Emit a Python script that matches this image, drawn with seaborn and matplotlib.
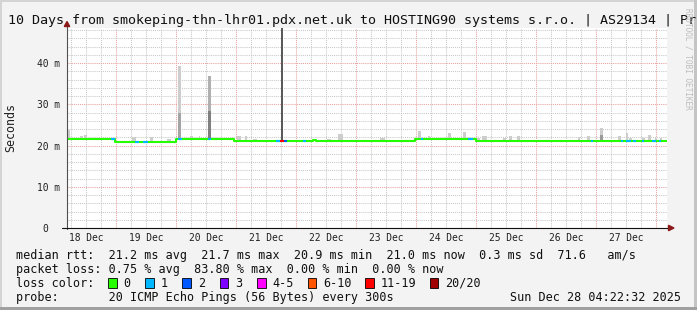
import numpy as np
import pandas as pd
import matplotlib
matplotlib.use("Agg")
import matplotlib.pyplot as plt
import seaborn as sns
from matplotlib.patches import Rectangle, Polygon
from matplotlib.ticker import FixedLocator, FuncFormatter, NullFormatter

# ---------------- data ----------------
title_text = "10 Days from smokeping-thn-lhr01.pdx.net.uk to HOSTING90 systems s.r.o. | AS29134 | Pr"
day_labels = ["18 Dec", "19 Dec", "20 Dec", "21 Dec", "22 Dec",
              "23 Dec", "24 Dec", "25 Dec", "26 Dec", "27 Dec"]
y_tick_values = [0, 10, 20, 30, 40]
y_tick_labels = ["0  ", "10 m", "20 m", "30 m", "40 m"]

# hours since 18 Dec 00:00 ; median rtt in ms (step function)
median_hours = [4.4, 23.7, 48.0, 71.2, 102.7, 104.0, 143.6, 167.9, 244.4]
median_ms = [21.7, 20.9, 21.7, 21.0, 21.4, 21.0, 21.7, 21.0, 21.0]

# loss episodes (hours) and lost pings out of 20
loss_start = [22.0, 31.7, 34.8, 48.7, 60.7, 88.0, 89.6, 91.2, 98.8, 146.0,
              164.7, 214.0, 226.0, 228.0, 230.9, 234.3, 238.3, 241.0]
loss_end = [23.7, 33.1, 36.8, 50.4, 62.0, 89.6, 91.2, 92.4, 99.9, 146.7,
            166.7, 214.7, 226.7, 230.0, 232.0, 235.0, 240.0, 242.0]
loss_pings = [1, 1, 1, 1, 1, 1, 16, 2, 1, 1, 1, 1, 1, 1, 1, 1, 1, 1]

# smoke (ping spread above median): start/end hours, top in ms
smoke_start = [4.4, 9.6, 11.0, 30.4, 37.6, 44.4, 48.7, 53.5, 57.1, 60.7,
               72.5, 75.6, 78.8, 90.0, 108.5, 112.9, 129.6, 144.7, 148.7, 156.7,
               162.7, 168.3, 170.4, 178.8, 181.2, 184.3, 194.7, 200.4, 208.7, 212.5,
               217.6, 224.9, 227.9, 229.1, 234.3, 236.7, 239.6, 241.6]
smoke_end = [5.4, 10.8, 12.4, 32.0, 38.8, 46.0, 50.0, 54.7, 57.7, 62.0,
             73.9, 76.5, 80.3, 90.9, 109.9, 114.9, 131.6, 146.0, 149.6, 158.0,
             164.0, 169.6, 172.3, 180.0, 182.4, 185.6, 196.0, 201.9, 209.6, 213.6,
             218.7, 225.9, 228.7, 230.3, 235.6, 237.9, 240.5, 242.5]
smoke_top = [23.8, 22.3, 22.6, 22.0, 22.0, 21.6, 39.3, 22.3, 22.3, 36.9,
             22.3, 22.3, 21.6, 48.5, 21.6, 22.8, 21.8, 23.5, 22.2, 23.0,
             23.2, 21.9, 22.3, 21.9, 22.3, 22.3, 21.4, 21.4, 22.0, 22.3,
             24.2, 22.3, 23.0, 21.9, 21.9, 22.5, 21.8, 21.9]
# denser inner smoke for the spikes
inner_start = [48.7, 60.7, 90.0, 217.6]
inner_end = [50.0, 62.0, 90.9, 218.7]
inner_top = [27.9, 28.4, 48.5, 22.6]

rtt_stats = ["21.2 ms avg", "21.7 ms max", "20.9 ms min", "21.0 ms now", "0.3 ms sd"]
rtt_am = "71.6"
loss_stats = ["0.75 % avg", "83.80 % max", "0.00 % min", "0.00 % now"]
loss_labels = ["0", "1", "2", "3", "4-5", "6-10", "11-19", "20/20"]
probe_text = "20 ICMP Echo Pings (56 Bytes) every 300s"
stamp_text = "Sun Dec 28 04:22:32 2025"

# ---------------- style ----------------
W, H = 697, 310
BG = "#f3f3f3"
MONO = "DejaVu Sans Mono"
sns.set_style("white")
plt.rcParams["font.family"] = [MONO, "DejaVu Sans"]

loss_palette = ["#26ff00", "#00b8ff", "#0059ff", "#7e00ff",
                "#ff00ff", "#ff5500", "#ff0000", "#a10000"]


def loss_color(n):
    if n <= 3:
        return loss_palette[n]
    if n <= 5:
        return loss_palette[4]
    if n <= 10:
        return loss_palette[5]
    if n <= 19:
        return loss_palette[6]
    return loss_palette[7]


def median_at(t):
    i = np.searchsorted(median_hours, t, side="right") - 1
    return median_ms[min(max(i, 0), len(median_ms) - 1)]


fig = plt.figure(figsize=(W / 100, H / 100), dpi=100, facecolor=BG)
ax = fig.add_axes([67 / W, (H - 228) / H, 600 / W, 200 / H])
ax.set_facecolor("white")
ax.set_xlim(4.4, 244.4)
ax.set_ylim(0, 48.5)

# smoke
base = [median_at(s) - 0.1 for s in smoke_start]
outer_cols = []
for s in smoke_start:
    if abs(s - 60.7) < 0.01:
        outer_cols.append("#b0b0b0")
    elif abs(s - 90.0) < 0.01:
        outer_cols.append("#5a5a5a")
    else:
        outer_cols.append("#cdcdcd")
ax.bar(smoke_start, np.array(smoke_top) - np.array(base), bottom=base,
       width=np.array(smoke_end) - np.array(smoke_start), align="edge",
       color=outer_cols, linewidth=0, zorder=2)
ibase = [median_at(s) - 0.1 for s in inner_start]
ax.bar(inner_start, np.array(inner_top) - np.array(ibase), bottom=ibase,
       width=np.array(inner_end) - np.array(inner_start), align="edge",
       color=["#a4a4a4", "#808080", "#5a5a5a", "#9a9a9a"], linewidth=0, zorder=2.1)

# median line
df = pd.DataFrame({"hours": median_hours, "ms": median_ms})
sns.lineplot(data=df, x="hours", y="ms", ax=ax, drawstyle="steps-post",
             color="#26ff00", linewidth=1.5, zorder=3, solid_capstyle="butt")
for s, e, n in zip(loss_start, loss_end, loss_pings):
    ax.hlines(median_at(s), s, e, color=loss_color(n), linewidth=1.5, zorder=3.5)

# grid & ticks
ax.xaxis.set_major_locator(FixedLocator(np.arange(24, 244, 24)))
ax.xaxis.set_minor_locator(FixedLocator(np.arange(6, 244, 6)))
ax.xaxis.set_major_formatter(NullFormatter())
ax.xaxis.set_minor_formatter(FuncFormatter(
    lambda v, p: day_labels[int(v // 24)] if abs(v % 24 - 12) < 0.01 and int(v // 24) < len(day_labels) else ""))
ax.yaxis.set_major_locator(FixedLocator(y_tick_values))
ax.yaxis.set_minor_locator(FixedLocator(np.arange(2, 48.5, 2)))
ax.set_yticklabels(y_tick_labels)

ax.grid(which="major", color="#e8a0a0", linestyle=(0, (1, 1)), linewidth=0.75, zorder=1)
ax.grid(which="minor", color="#c8c8c8", linestyle=(0, (1, 1)), linewidth=0.75, zorder=1)
ax.set_axisbelow(True)

ax.tick_params(axis="x", which="major", direction="out", length=2.5, width=0.75,
               color="#e08080", labelbottom=False)
ax.tick_params(axis="x", which="minor", direction="out", length=1.5, width=0.75,
               color="#b0b0b0", pad=2.2, labelsize=6.9, labelcolor="#202020")
ax.tick_params(axis="y", which="major", direction="out", length=3.2, width=0.75,
               color="#404040", pad=2.0, labelsize=6.9, labelcolor="#202020")
ax.tick_params(axis="y", which="minor", direction="inout", length=1.5, width=0.75,
               color="#707070")
for lab in ax.get_xticklabels(minor=True) + ax.get_yticklabels():
    lab.set_fontfamily(MONO)
for sp in ax.spines.values():
    sp.set_visible(False)
ax.set_xlabel("")
ax.set_ylabel("")


def ax_pt(px, py):
    return ((px - 67) / 600, (228 - py) / 200)


# axis lines with arrows
ax.plot(*zip(ax_pt(67, 229), ax_pt(67, 25)), transform=ax.transAxes,
        color="#505050", lw=0.8, clip_on=False, zorder=5)
ax.plot(*zip(ax_pt(62, 228), ax_pt(669, 228)), transform=ax.transAxes,
        color="#101010", lw=0.8, clip_on=False, zorder=5)
ax.add_patch(Polygon([ax_pt(67, 21.5), ax_pt(64.3, 26.5), ax_pt(69.7, 26.5)],
                     closed=True, transform=ax.transAxes, color="#8b1a1a",
                     clip_on=False, zorder=6))
ax.add_patch(Polygon([ax_pt(674, 228), ax_pt(668.5, 225.3), ax_pt(668.5, 230.7)],
                     closed=True, transform=ax.transAxes, color="#8b1a1a",
                     clip_on=False, zorder=6))


def fx(px):
    return px / W


def fy(py):
    return 1 - py / H


# title, axis label, watermark
fig.text(fx(8.3), fy(24), title_text, fontsize=9.6, family=MONO,
         color="#101010", va="baseline", ha="left")
fig.text(fx(10.5), fy(128), "Seconds", rotation=90, fontsize=8.4, family=MONO,
         color="#202020", va="center", ha="center")
fig.text(fx(688), fy(59), "RRDTOOL / TOBI OETIKER", rotation=270, fontsize=5.6,
         family=MONO, color="#bdbdbd", va="center", ha="center")

# legend rows (monospace columns)
LFS = 8.5
row_base = [259.2, 273.0, 286.9, 300.7]
row1 = "median rtt:  " + "  ".join(rtt_stats) + "  " + rtt_am + "   am/s"
row2 = "packet loss: " + "  ".join(loss_stats)
fig.text(fx(16.4), fy(row_base[0]), row1, fontsize=LFS, family=MONO,
         color="#101010", va="baseline")
fig.text(fx(16.4), fy(row_base[1]), row2, fontsize=LFS, family=MONO,
         color="#101010", va="baseline")
fig.text(fx(16.4), fy(row_base[2]), "loss color:", fontsize=LFS, family=MONO,
         color="#101010", va="baseline")
sq_x = [108.0, 145.3, 182.2, 219.6, 257.0, 307.6, 365.3, 429.8]
for i, (lab, x) in enumerate(zip(loss_labels, sq_x)):
    fig.add_artist(Rectangle((fx(x), fy(288)), 8.5 / W, 10 / H, transform=fig.transFigure,
                             facecolor=loss_palette[i], edgecolor="#000000", linewidth=0.6))
    fig.text(fx(x + 15.6), fy(row_base[2]), lab, fontsize=LFS, family=MONO,
             color="#101010", va="baseline")
fig.text(fx(16.4), fy(row_base[3]), "probe:       " + probe_text, fontsize=LFS,
         family=MONO, color="#101010", va="baseline")
fig.text(fx(680.5), fy(row_base[3]), stamp_text, fontsize=LFS, family=MONO,
         color="#101010", va="baseline", ha="right")

# 3D border
fig.add_artist(Rectangle((0, 1 - 2 / H), 1, 2 / H, transform=fig.transFigure,
                         facecolor="#d4d4d4", edgecolor="none"))
fig.add_artist(Rectangle((0, 0), 2 / W, 1, transform=fig.transFigure,
                         facecolor="#d4d4d4", edgecolor="none"))
fig.add_artist(Rectangle((1 - 3 / W, 0), 3 / W, 1, transform=fig.transFigure,
                         facecolor="#c4c4c4", edgecolor="none"))
fig.add_artist(Rectangle((0, 0), 1, 3 / H, transform=fig.transFigure,
                         facecolor="#a0a0a0", edgecolor="none"))

fig.savefig("out.png", dpi=100, facecolor=BG)
